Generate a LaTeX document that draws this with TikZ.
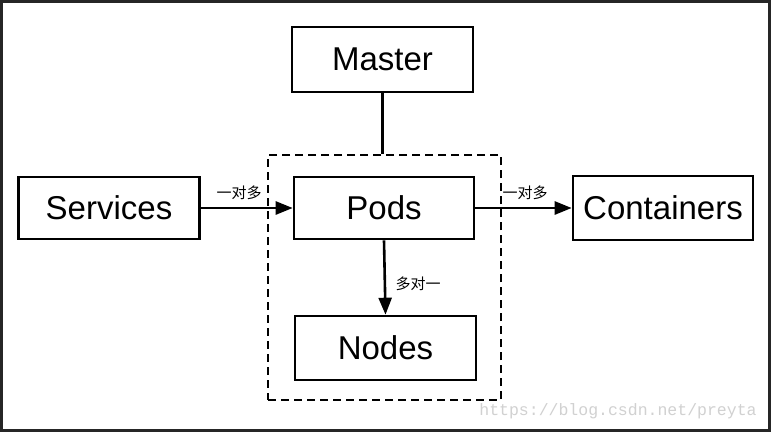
\documentclass[tikz,border=0pt]{standalone}
\usepackage{fontspec}
\setmainfont{Liberation Sans}
\newfontfamily\cjk{Noto Sans CJK SC}
\newfontfamily\wmfont{Liberation Mono}
\usetikzlibrary{arrows.meta,calc}
\begin{document}
\begin{tikzpicture}[x=1pt,y=-1pt,
  box/.style={draw=black,line width=2.6pt,fill=white,inner sep=0pt,
    font=\fontsize{33}{38}\selectfont},
  conn/.style={line width=2.6pt,-{Triangle[length=17pt,width=13pt]}},
  lbl/.style={font=\cjk\fontsize{15}{17}\selectfont,inner sep=0pt}]
\useasboundingbox (0,0) rectangle (771,432);
\fill[white] (0,0) rectangle (771,432);
\draw[line width=3pt,color=black!85] (1.5,1.5) rectangle (769.5,430.5);
\node[draw=black,line width=1.8pt,dash pattern=on 8pt off 5pt,minimum width=233pt,minimum height=245pt,inner sep=0pt] (group) at (384.5,277.5) {};
\node[box,minimum width=181pt,minimum height=65pt] (master) at (382.5,59.5) {Master};
\node[box,minimum width=181pt,minimum height=62pt] (services) at (109,208) {Services};
\node[box,minimum width=180pt,minimum height=62pt] (pods) at (384,208) {Pods};
\node[box,minimum width=180pt,minimum height=64pt] (containers) at (663,208) {Containers};
\node[box,minimum width=181pt,minimum height=64pt] (nodes) at (385.5,348) {Nodes};
\draw[line width=2.6pt] (master.south) -- (master.south |- group.north);
\draw[conn] (services.east) -- (pods.west);
\draw[conn] (pods.east) -- (containers.west);
\draw[conn] (pods.south) -- (nodes.north);
\node[lbl] (l1) at (239,193) {一对多};
\node[lbl] (l2) at (525,193) {一对多};
\node[lbl] (l3) at (418,284) {多对一};
\node[font=\wmfont\fontsize{16.5}{18}\selectfont,text=black!18,inner sep=0pt] (wm) at (618,411) {https://blog.csdn.net/preyta};
\end{tikzpicture}
\end{document}
